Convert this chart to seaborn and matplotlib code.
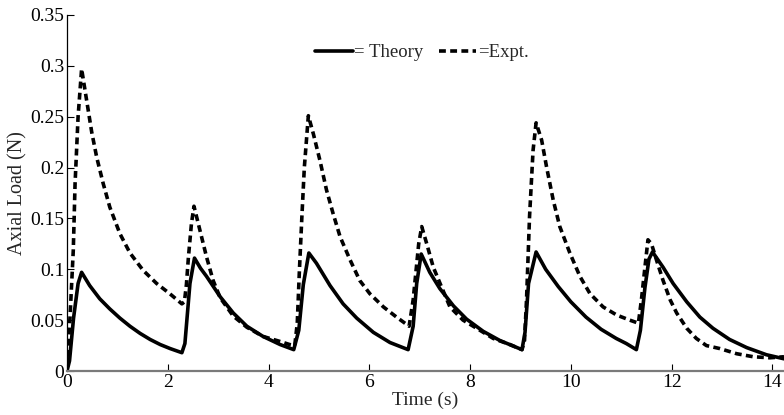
import numpy as np
import pandas as pd
import matplotlib
matplotlib.use("Agg")
import matplotlib.pyplot as plt
import seaborn as sns

# ---- data ----
theory_t = [0, 0.05, 0.13, 0.22, 0.29, 0.45, 0.65, 0.85, 1.05, 1.25, 1.45, 1.65, 1.85, 2.05, 2.28,
            2.34, 2.44, 2.53, 2.65, 2.77, 3.04, 3.30, 3.57, 3.89, 4.23, 4.50,
            4.60, 4.69, 4.80, 4.95, 5.22, 5.48, 5.75, 6.08, 6.41, 6.77,
            6.87, 6.94, 7.03, 7.20, 7.40, 7.67, 7.93, 8.26, 8.59, 9.03,
            9.09, 9.16, 9.31, 9.50, 9.75, 10.0, 10.3, 10.6, 10.9, 11.1, 11.30,
            11.38, 11.47, 11.55, 11.62, 11.83, 12.03, 12.30, 12.56, 12.82, 13.15, 13.49, 13.88, 14.23]
theory_y = [0, 0.010, 0.052, 0.086, 0.097, 0.084, 0.071, 0.061, 0.052, 0.044, 0.037, 0.031, 0.026, 0.022, 0.018,
            0.027, 0.086, 0.111, 0.101, 0.093, 0.073, 0.057, 0.044, 0.034, 0.026, 0.021,
            0.040, 0.085, 0.116, 0.106, 0.084, 0.066, 0.052, 0.038, 0.028, 0.021,
            0.044, 0.086, 0.115, 0.097, 0.081, 0.064, 0.051, 0.039, 0.030, 0.021,
            0.038, 0.086, 0.117, 0.100, 0.083, 0.068, 0.053, 0.041, 0.032, 0.027, 0.021,
            0.040, 0.082, 0.110, 0.117, 0.102, 0.086, 0.068, 0.053, 0.042, 0.031, 0.023, 0.016, 0.012]

expt_t = [0, 0.06, 0.125, 0.16, 0.22, 0.29, 0.39, 0.49, 0.59, 0.72, 0.85, 1.05, 1.25, 1.51, 1.78, 2.04, 2.28,
          2.33, 2.37, 2.41, 2.47, 2.52, 2.64, 2.77, 2.90, 3.04, 3.30, 3.57, 3.89, 4.23, 4.42, 4.52,
          4.57, 4.61, 4.66, 4.71, 4.79, 4.89, 5.02, 5.15, 5.28, 5.42, 5.62, 5.81, 6.01, 6.28, 6.54, 6.79,
          6.87, 6.93, 6.98, 7.04, 7.14, 7.27, 7.43, 7.60, 7.86, 8.13, 8.46, 8.79, 9.03,
          9.08, 9.12, 9.18, 9.25, 9.31, 9.42, 9.52, 9.65, 9.78, 9.98, 10.18, 10.38, 10.64, 10.91, 11.17, 11.34,
          11.40, 11.47, 11.53, 11.60, 11.70, 11.83, 11.97, 12.10, 12.30, 12.49, 12.69, 12.96, 13.29, 13.62, 13.95, 14.23]
expt_y = [0.003, 0.053, 0.119, 0.184, 0.250, 0.297, 0.266, 0.235, 0.210, 0.184, 0.161, 0.135, 0.116, 0.099, 0.086, 0.076, 0.066,
          0.068, 0.085, 0.112, 0.145, 0.162, 0.138, 0.112, 0.089, 0.072, 0.054, 0.043, 0.034, 0.029, 0.026, 0.025,
          0.047, 0.096, 0.150, 0.200, 0.251, 0.233, 0.207, 0.178, 0.155, 0.132, 0.109, 0.089, 0.076, 0.063, 0.053, 0.044,
          0.070, 0.100, 0.125, 0.142, 0.125, 0.102, 0.083, 0.063, 0.050, 0.042, 0.032, 0.026, 0.021,
          0.030, 0.070, 0.152, 0.217, 0.244, 0.227, 0.200, 0.168, 0.142, 0.116, 0.093, 0.076, 0.063, 0.055, 0.050, 0.047,
          0.070, 0.102, 0.129, 0.125, 0.109, 0.089, 0.070, 0.057, 0.042, 0.032, 0.025, 0.022, 0.017, 0.014, 0.013, 0.014]

x_ticks = [0, 2, 4, 6, 8, 10, 12, 14]
y_ticks = [0, 0.05, 0.1, 0.15, 0.2, 0.25, 0.3, 0.35]
y_tick_labels = ["0", "0.05", "0.1", "0.15", "0.2", "0.25", "0.3", "0.35"]
series_labels = ["= Theory", "=Expt."]
x_label = "Time (s)"
y_label = "Axial Load (N)"

# ---- plotting ----
sns.set_theme(style="white")
plt.rcParams["font.family"] = ["Liberation Serif", "DejaVu Serif"]

fig = plt.figure(figsize=(7.84, 4.15), dpi=100)
ax = fig.add_axes([67 / 784, 1 - 371 / 415, (784 - 67) / 784, (371 - 15) / 415])

df_th = pd.DataFrame({"t": theory_t, "y": theory_y})
df_ex = pd.DataFrame({"t": expt_t, "y": expt_y})

sns.lineplot(data=df_th, x="t", y="y", ax=ax, color="black", linewidth=2.6,
             estimator=None, label=series_labels[0])
sns.lineplot(data=df_ex, x="t", y="y", ax=ax, color="black", linewidth=2.6,
             estimator=None, label=series_labels[1], dashes=False)
ax.lines[1].set_dashes([1.9, 1.2])
ax.lines[1].set_dash_capstyle("butt")

ax.set_xlim(0, 14.23)
ax.set_ylim(0, 0.35)
ax.set_xticks(x_ticks)
ax.set_xticklabels([str(v) for v in x_ticks])
ax.set_yticks(y_ticks)
ax.set_yticklabels(y_tick_labels)
ax.tick_params(axis="both", direction="in", length=5, width=0.8, colors="black",
               labelsize=14, pad=2, left=True, bottom=True)
ax.set_xlabel(x_label, fontsize=14, labelpad=1)
ax.set_ylabel(y_label, fontsize=14.5, labelpad=2)

for side in ["top", "right"]:
    ax.spines[side].set_visible(False)
ax.spines["left"].set_color("black")
ax.spines["left"].set_linewidth(0.9)
ax.spines["bottom"].set_color("#7a7a7a")
ax.spines["bottom"].set_linewidth(1.6)

leg = ax.legend(ncol=2, loc="upper center", bbox_to_anchor=(0.495, 0.965), frameon=False,
                handlelength=2.0, handletextpad=0.1, columnspacing=0.8, fontsize=13.5)

fig.savefig("out.png", dpi=100)
